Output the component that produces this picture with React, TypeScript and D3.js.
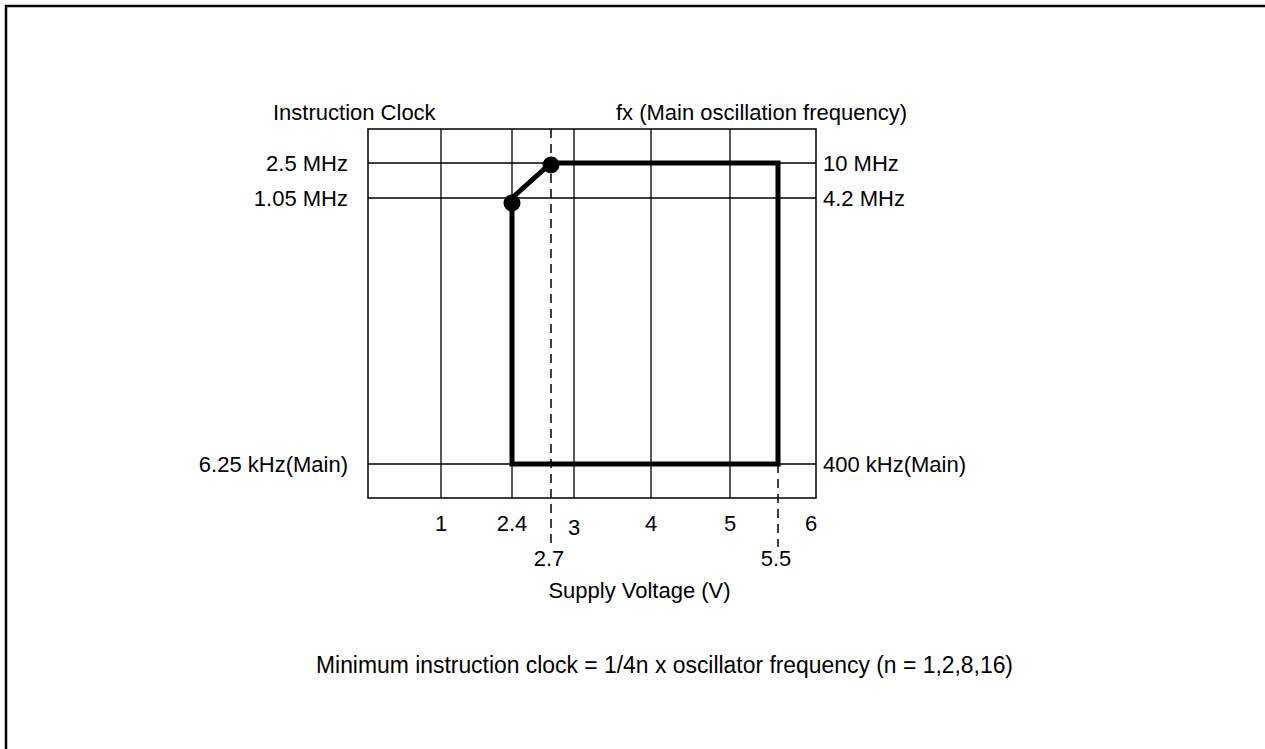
import React from "react";
import * as d3 from "d3";

// ---- data ----
const voltageGrid = [1, 2.4, 3, 4, 5];
const voltageTicks = [1, 2.4, 3, 4, 5, 6];
const voltageMarks = [2.7, 5.5];
const levels = ["top", "2.5M", "1.05M", "6.25k", "bottom"];
const gridLevels = ["2.5M", "1.05M", "6.25k"];
const leftLabels = ["2.5 MHz", "1.05 MHz", "6.25 kHz(Main)"];
const rightLabels = ["10 MHz", "4.2 MHz", "400 kHz(Main)"];
const regionV = [2.4, 2.4, 2.7, 5.5, 5.5];
const regionF = ["6.25k", "1.05M", "2.5M", "2.5M", "6.25k"];
const dotV = [2.4, 2.7];
const dotF = ["1.05M", "2.5M"];
const leftTitle = "Instruction Clock";
const rightTitle = "fx (Main oscillation frequency)";
const xTitle = "Supply Voltage (V)";
const footer = "Minimum instruction clock = 1/4n x oscillator frequency (n = 1,2,8,16)";

// ---- schematic (non-uniform) scales ----
const x = d3
  .scaleLinear()
  .domain([0, 1, 2.4, 2.7, 3, 4, 5, 5.5, 6])
  .range([368, 441, 512, 551, 574, 651, 730, 778, 816]);
const yIdx = d3.scaleLinear().domain([0, 1, 2, 3, 4]).range([129, 163, 198, 464, 498]);
const y = (lvl: string) => yIdx(levels.indexOf(lvl));

const FONT = "'Liberation Sans', Arial, Helvetica, sans-serif";

export default function App() {
  const x0 = x(0), x1 = x(6), y0 = y("top"), y1 = y("bottom");
  const region = regionV.map((v, i) => [x(v), y(regionF[i])] as [number, number]);
  const path = d3.line()(region) + "Z";
  return (
    <svg
      width={1265}
      height={749}
      style={{ position: "absolute", left: 0, top: 0, background: "#fff" }}
      fontFamily={FONT}
      fontSize={22}
    >
      <rect x={6} y={6} width={1400} height={900} fill="none" stroke="#000" strokeWidth={2.5} />
      {/* grid */}
      {voltageGrid.map((v) => (
        <line key={"v" + v} x1={x(v)} x2={x(v)} y1={y0} y2={y1} stroke="#000" strokeWidth={1.3} />
      ))}
      {gridLevels.map((l) => (
        <line key={"h" + l} x1={x0} x2={x1} y1={y(l)} y2={y(l)} stroke="#000" strokeWidth={1.3} />
      ))}
      <rect x={x0} y={y0} width={x1 - x0} height={y1 - y0} fill="none" stroke="#000" strokeWidth={1.5} />
      {/* dashed markers */}
      {voltageMarks.map((v, i) => (
        <line
          key={"d" + v}
          x1={x(v)}
          x2={x(v)}
          y1={i === 0 ? y0 : y("6.25k")}
          y2={547}
          stroke="#000"
          strokeWidth={1.5}
          strokeDasharray="9,6"
        />
      ))}
      {/* operating region */}
      <path d={path} fill="none" stroke="#000" strokeWidth={5} strokeLinejoin="miter" />
      {dotV.map((v, i) => (
        <circle key={"c" + v} cx={x(v)} cy={y(dotF[i]) + (i === 0 ? 5 : 2)} r={8.5} fill="#000" />
      ))}
      {/* titles */}
      <text x={273} y={120}>{leftTitle}</text>
      <text x={907} y={120} textAnchor="end">{rightTitle}</text>
      {gridLevels.map((l, i) => (
        <text key={"ll" + l} x={348} y={y(l)} textAnchor="end" dominantBaseline="central">
          {leftLabels[i]}
        </text>
      ))}
      {gridLevels.map((l, i) => (
        <text key={"rl" + l} x={823} y={y(l)} dominantBaseline="central">
          {rightLabels[i]}
        </text>
      ))}
      {voltageTicks.map((v) => (
        <text
          key={"t" + v}
          x={v === 6 ? x(v) - 5 : x(v)}
          y={v === 3 ? 527 : 523}
          textAnchor="middle"
          dominantBaseline="central"
        >
          {v}
        </text>
      ))}
      {voltageMarks.map((v) => (
        <text key={"m" + v} x={x(v) - 2} y={558} textAnchor="middle" dominantBaseline="central">
          {v}
        </text>
      ))}
      <text x={639.5} y={598} textAnchor="middle">{xTitle}</text>
      <text x={664.5} y={673} fontSize={23} textAnchor="middle" textLength={697} lengthAdjust="spacingAndGlyphs">
        {footer}
      </text>
    </svg>
  );
}
